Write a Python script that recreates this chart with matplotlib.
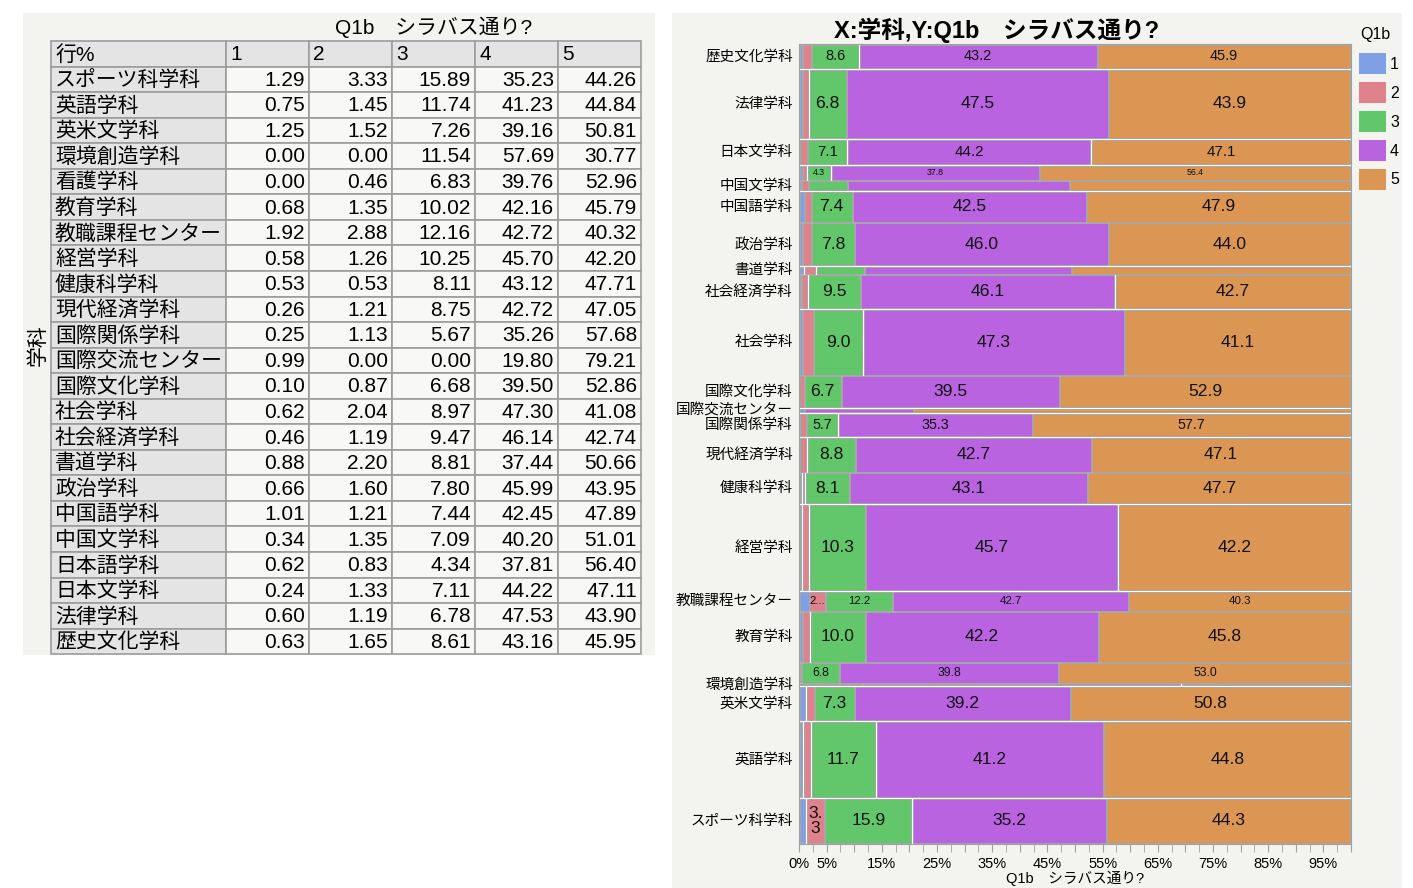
import numpy as np
import matplotlib
matplotlib.use("Agg")
import matplotlib.pyplot as plt
from matplotlib.patches import Rectangle

plt.rcParams["font.family"] = ["Liberation Sans", "Noto Sans CJK JP", "DejaVu Sans"]
NARROW = ["Liberation Sans Narrow", "Liberation Sans", "DejaVu Sans"]

# ---- data (row %, table order) -------------------------------------
depts = ["スポーツ科学科", "英語学科", "英米文学科", "環境創造学科", "看護学科",
         "教育学科", "教職課程センター", "経営学科", "健康科学科", "現代経済学科",
         "国際関係学科", "国際交流センター", "国際文化学科", "社会学科", "社会経済学科",
         "書道学科", "政治学科", "中国語学科", "中国文学科", "日本語学科",
         "日本文学科", "法律学科", "歴史文化学科"]
q1 = [1.29, 0.75, 1.25, 0.00, 0.00, 0.68, 1.92, 0.58, 0.53, 0.26, 0.25, 0.99,
      0.10, 0.62, 0.46, 0.88, 0.66, 1.01, 0.34, 0.62, 0.24, 0.60, 0.63]
q2 = [3.33, 1.45, 1.52, 0.00, 0.46, 1.35, 2.88, 1.26, 0.53, 1.21, 1.13, 0.00,
      0.87, 2.04, 1.19, 2.20, 1.60, 1.21, 1.35, 0.83, 1.33, 1.19, 1.65]
# 3rd decimal where the mosaic label shows which way the value rounds
q3 = [15.89, 11.74, 7.26, 11.54, 6.83, 10.02, 12.16, 10.251, 8.11, 8.75, 5.67, 0.00,
      6.68, 8.97, 9.47, 8.81, 7.80, 7.44, 7.09, 4.34, 7.11, 6.78, 8.61]
q4 = [35.23, 41.23, 39.16, 57.69, 39.76, 42.16, 42.72, 45.70, 43.12, 42.72, 35.26, 19.80,
      39.50, 47.30, 46.14, 37.44, 45.99, 42.45, 40.20, 37.81, 44.22, 47.53, 43.16]
q5 = [44.26, 44.84, 50.81, 30.77, 52.96, 45.79, 40.32, 42.20, 47.71, 47.051, 57.68, 79.21,
      52.86, 41.08, 42.74, 50.66, 43.95, 47.89, 51.01, 56.40, 47.11, 43.90, 45.949]
# respondents per department (read from mosaic row heights)
counts = [1503, 2551, 1132, 26, 659, 1672, 625, 2899, 1007, 1139, 777, 101,
          1047, 2196, 1115, 227, 1419, 1014, 296, 480, 828, 2307, 790]
cats = ["1", "2", "3", "4", "5"]
colors = ["#7fa0e6", "#e0828c", "#62c76a", "#b963e1", "#dc9653"]
q_title = "Q1b　シラバス通り?"

W, H = 1413, 888
fig = plt.figure(figsize=(W / 100, H / 100), dpi=100)
bg = fig.add_axes([0, 0, 1, 1])
bg.set_xlim(0, W)
bg.set_ylim(H, 0)
bg.axis("off")

# panels
bg.add_patch(Rectangle((23, 13), 632, 642, fc="#f3f3f0", ec="none"))
bg.add_patch(Rectangle((672, 13), 730, 875, fc="#f3f3f0", ec="none"))

# ---- table -----------------------------------------------------------
vals = np.array([q1, q2, q3, q4, q5]).T
col_x = [51, 226, 309, 392, 475, 558, 641]
top, rh = 41, 25.55
for r in range(len(depts) + 1):
    y0 = top + r * rh
    for c in range(6):
        x0, x1 = col_x[c], col_x[c + 1]
        fc = "#e4e4e4" if (r == 0 or c == 0) else "#f8f8f6"
        bg.add_patch(Rectangle((x0, y0), x1 - x0, rh, fc=fc, ec="#9c9c9c", lw=1.2))
        yc = y0 + rh / 2 + 1
        if r == 0:
            txt = "行%" if c == 0 else cats[c - 1]
            bg.text(x0 + 4, yc, txt, ha="left", va="center", fontsize=15)
        elif c == 0:
            bg.text(x0 + 4, yc, depts[r - 1], ha="left", va="center", fontsize=15)
        else:
            bg.text(x1 - 4, yc, f"{vals[r - 1, c - 1]:.2f}", ha="right", va="center",
                    fontsize=15)
bg.text((col_x[1] + col_x[-1]) / 2, 27, q_title, ha="center", va="center", fontsize=15)
bg.text(38, 345, "学科", ha="center", va="center", fontsize=15, rotation=90)

# ---- mosaic ----------------------------------------------------------
ax = fig.add_axes([799 / W, 1 - 844 / H, 552 / W, 800 / H])
ax_h = 800.0
gap = 1.6
net = ax_h - gap * len(depts)
heights = np.array(counts) / sum(counts) * net
ax.set_xlim(0, 100)
ax.set_ylim(0, ax_h)
ax.set_facecolor("white")

xgap = 0.13
y = 0.0
last_label = -100
for i, name in enumerate(depts):
    h = heights[i]
    y0 = y + gap / 2
    yc = y0 + h / 2
    fpx = min(17.5, 0.62 * h)
    left = 0.0
    for k in range(5):
        v = vals[i, k]
        if v > 0:
            w = max(v - 2 * xgap, 0.15)
            ax.add_patch(Rectangle((left + xgap, y0), w, h, fc=colors[k],
                                   ec="#a0a0a0", lw=0.6))
            wpx = v / 100 * 552
            if h >= 11 and wpx >= 15:
                txt = f"{v:.1f}"
                tw = len(txt) * 0.5 * fpx
                if wpx < tw + 4:
                    txt = txt[:2] + "\n" + txt[2:] if h >= 2.4 * fpx else txt[0] + "..."
                ax.text(left + v / 2, yc, txt, ha="center", va="center",
                        fontsize=fpx * 0.72, linespacing=1.0, color="#111111",
                        family=NARROW)
        left += v
    if yc - last_label >= 14:
        ax.text(-1.1, yc, name, ha="right", va="center", fontsize=10.5)
        last_label = yc
    y += h + gap

ticks = np.arange(0, 101, 5)
ax.set_xticks(ticks)
ax.set_xticklabels([f"{t}%" if (t in (0, 5) or (t % 10 == 5)) else "" for t in ticks],
                   fontsize=10.5)
ax.set_xticks(np.arange(2.5, 100, 5), minor=True)
ax.set_yticks([])
ax.tick_params(axis="x", which="major", length=6, color="#a0a0a0", pad=3)
ax.tick_params(axis="x", which="minor", length=6, color="#a0a0a0")
for s in ax.spines.values():
    s.set_color("#a0a0a0")
ax.set_xlabel(q_title, fontsize=10.5, labelpad=0)

bg.text(997, 30, "X:学科,Y:" + q_title, ha="center", va="center", fontsize=17,
        fontweight="bold")

# legend
bg.text(1375, 35, "Q1b", ha="center", va="center", fontsize=11.5)
for k, cat in enumerate(cats):
    y0 = 53.3 + k * 28.9
    bg.add_patch(Rectangle((1359, y0), 26.5, 21, fc=colors[k], ec="none"))
    bg.text(1390, y0 + 11, cat, ha="left", va="center", fontsize=11.5)

fig.savefig("out.png", dpi=100)
